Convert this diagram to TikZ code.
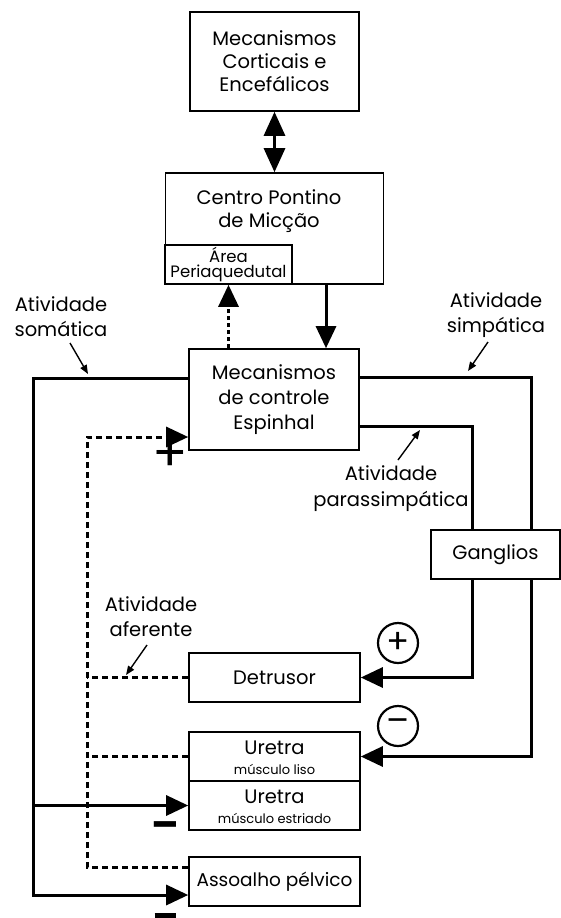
\documentclass[tikz,border=0pt]{standalone}
\usepackage{fontspec}
\setmainfont{Poppins}
\usetikzlibrary{arrows.meta,calc}
\newcommand\mfs{\fontsize{19.5}{23}\selectfont}
\newcommand\sfs{\fontsize{13}{15}\selectfont}
\begin{document}
\begin{tikzpicture}[x=1pt,y=-1pt,
  box/.style={draw, line width=1.6pt, inner sep=0pt, align=center, font=\mfs},
  lbl/.style={inner sep=0pt, align=center, font=\mfs},
  conn/.style={line width=3pt},
  arr/.style={line width=3pt, -{Triangle[length=22pt,width=20pt]}},
  darr/.style={line width=3pt, {Triangle[length=24pt,width=21pt]}-{Triangle[length=24pt,width=21pt]}},
  dsh/.style={line width=3pt, dash pattern=on 6pt off 4pt},
  larr/.style={line width=1.4pt, -{Triangle[length=9pt,width=7pt]}},
  circ/.style={draw, circle, line width=2.2pt, minimum size=40pt, inner sep=0pt, font=\fontsize{34}{34}\selectfont}
]
\useasboundingbox (0,0) rectangle (561,918);
\fill[white] (0,0) rectangle (561,918);

% boxes
\node[box, minimum width=169pt, minimum height=99pt] (top) at (274.5,61.5) {Mecanismos\\Corticais e\\Encefálicos};
\node[box, minimum width=218pt, minimum height=111pt] (centro) at (274.5,228.5) {};
\node[lbl] (ctext) at (269,211) {Centro Pontino\\de Micção};
\node[box, minimum width=127pt, minimum height=39pt, font=\fontsize{16.5}{15.5}\selectfont] (area) at (228.5,264.5) {Área\\Periaquedutal};
\node[box, minimum width=170pt, minimum height=101pt, font=\fontsize{19.5}{25}\selectfont] (esp) at (274,399.5) {Mecanismos\\de controle\\Espinhal};
\node[box, minimum width=129pt, minimum height=49pt] (gang) at (495.5,554.5) {Ganglios};
\node[box, minimum width=171pt, minimum height=49pt] (det) at (274.5,677.5) {Detrusor};
\node[box, minimum width=171pt, minimum height=49pt] (liso) at (274.5,756.5) {};
\node[lbl] (lisot) at (274.5,758) {Uretra\\[-3pt]{\sfs músculo liso}};
\node[box, minimum width=171pt, minimum height=49pt] (estr) at (274.5,805.5) {};
\node[lbl] (estrt) at (274.5,807) {Uretra\\[-3pt]{\sfs músculo estriado}};
\node[box, minimum width=171pt, minimum height=49pt, font=\fontsize{18.5}{23}\selectfont] (ass) at (274.5,881.5) {Assoalho pélvico};

% central connectors
\draw[darr] (top.south) -- (centro.north);
\coordinate (d1) at (326,0);
\draw[arr] (centro.south -| d1) -- (esp.north -| d1);
\draw[line width=3pt, dash pattern=on 4pt off 3pt, -{Triangle[length=22pt,width=20pt]}] (area.south |- esp.north) -- (area.south);

% somatic
\coordinate (s1) at (33,378);
\coordinate (s2) at (33,895);
\draw[arr] (esp.west |- s1) -- (s1) -- (s2) -- (s2 -| ass.west);
\draw[arr] (s1 |- estr.west) -- (estr.west);

% afferent
\coordinate (a1) at (87,437);
\coordinate (a2) at (87,867);
\draw[dsh] (a2 -| ass.west) -- (a2) -- (a1) -- ($(a1 -| esp.west)+(-20,0)$);
\draw[arr] ($(a1 -| esp.west)+(-22,0)$) -- (a1 -| esp.west);
\draw[dsh] (det.west) -- (det.west -| a1);
\draw[dsh] (liso.west) -- (liso.west -| a1);

% sympathetic
\coordinate (y1) at (531,377);
\draw[conn] (esp.east |- y1) -- (y1) -- (y1 |- gang.north);
\draw[arr] (y1 |- gang.south) -- (y1 |- liso.east) -- (liso.east);

% parasympathetic
\coordinate (p1) at (472,426);
\draw[conn] (esp.east |- p1) -- (p1) -- (p1 |- gang.north);
\draw[arr] (p1 |- gang.south) -- (p1 |- det.east) -- (det.east);

% labels
\node[lbl, font=\fontsize{19.5}{25}\selectfont] (lsom) at (61,317) {Atividade\\somática};
\coordinate (fsom) at (70,343); \coordinate (tsom) at (88,374);
\draw[larr] (fsom) -- (tsom);
\node[lbl, font=\fontsize{19.5}{25}\selectfont] (lsym) at (496,315.5) {Atividade\\simpática};
\coordinate (fsym) at (488,342); \coordinate (tsym) at (468,371);
\draw[larr] (fsym) -- (tsym);
\node[lbl, font=\fontsize{19.5}{26}\selectfont] (lpar) at (391,489) {Atividade\\parassimpática};
\coordinate (fpar) at (398,460); \coordinate (tpar) at (420,430);
\draw[larr] (fpar) -- (tpar);
\node[lbl, font=\fontsize{19.5}{25}\selectfont] (laff) at (151,617) {Atividade\\aferente};
\coordinate (faff) at (147,645); \coordinate (taff) at (126,675);
\draw[larr] (faff) -- (taff);

% signs
\node[inner sep=0pt, font=\fontsize{52}{52}\selectfont] (plus) at (170,455) {+};
\node[inner sep=0pt, font=\fontsize{40}{40}\selectfont\bfseries] (min1) at (165,830) {–};
\node[inner sep=0pt] (min2) at (165,915) {\rule{21pt}{5pt}};
\node[circ] (cplus) at (398,643) {+};
\node[circ] (cmin) at (398,726) {–};
\end{tikzpicture}
\end{document}
